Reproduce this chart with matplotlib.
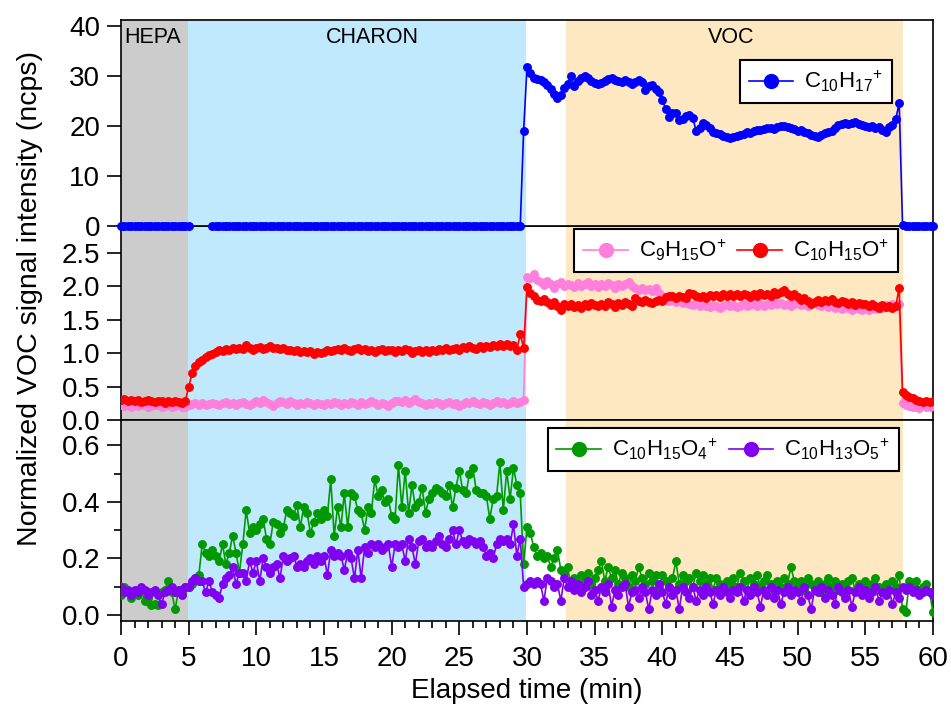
import numpy as np
import matplotlib
matplotlib.use("Agg")
from matplotlib import pyplot as plt
from matplotlib.ticker import MultipleLocator, FormatStrFormatter

plt.rcParams['font.family'] = ['Liberation Sans', 'DejaVu Sans']
plt.rcParams['mathtext.fontset'] = 'custom'
plt.rcParams['mathtext.rm'] = 'Liberation Sans'
plt.rcParams['mathtext.default'] = 'regular'

# sampled every 0.25 min from 0 to 60 min
time_min = np.arange(241) * 0.25

nan = np.nan

c10h17 = [
    0.0, 0.0, 0.0, 0.0, 0.0, 0.0, 0.0, 0.0, 0.0, 0.0, 0.0, 0.0, 0.0, 0.0, 0.0, 0.0, 0.0, 0.0, 0.0, 0.0,
    0.0, nan, nan, nan, nan, nan, nan, 0.0, 0.0, 0.0, 0.0, 0.0, 0.0, 0.0, 0.0, 0.0, 0.0, 0.0, 0.0, 0.0,
    0.0, 0.0, 0.0, 0.0, 0.0, 0.0, 0.0, 0.0, 0.0, 0.0, 0.0, 0.0, 0.0, 0.0, 0.0, 0.0, 0.0, 0.0, 0.0, 0.0,
    0.0, 0.0, 0.0, 0.0, 0.0, 0.0, 0.0, 0.0, 0.0, 0.0, 0.0, 0.0, 0.0, 0.0, 0.0, 0.0, 0.0, 0.0, 0.0, 0.0,
    0.0, 0.0, 0.0, 0.0, 0.0, 0.0, 0.0, 0.0, 0.0, 0.0, 0.0, 0.0, 0.0, 0.0, 0.0, 0.0, 0.0, 0.0, 0.0, 0.0,
    0.0, 0.0, 0.0, 0.0, 0.0, 0.0, 0.0, 0.0, 0.0, 0.0, 0.0, 0.0, 0.0, 0.0, 0.0, 0.0, 0.0, 0.0, 0.0, 19.0,
    31.8, 30.6, 29.6, 29.4, 29.2, 28.8, 28.2, 27.4, 26.4, 25.6, 26.2, 27.6, 28.4, 30.0, 28.0, 29.0, 29.6, 30.0, 29.6, 29.0,
    28.6, 28.4, 28.6, 29.0, 29.4, 29.6, 29.2, 29.0, 28.8, 29.2, 28.8, 28.4, 28.8, 29.2, 28.8, 27.2, 28.0, 28.2, 27.4, 26.8,
    25.2, 23.4, 21.8, 22.6, 22.6, 21.2, 21.4, 22.0, 22.2, 21.6, 19.0, 19.6, 20.6, 20.2, 19.6, 18.8, 18.6, 18.4, 18.0, 17.8,
    17.6, 17.8, 18.0, 18.2, 18.4, 18.8, 18.6, 19.0, 19.2, 19.2, 19.4, 19.6, 19.6, 19.4, 19.8, 20.0, 20.0, 19.8, 19.6, 19.4,
    19.0, 19.2, 18.8, 18.6, 18.2, 18.0, 17.8, 18.2, 18.6, 18.8, 19.0, 19.6, 20.2, 20.4, 20.6, 20.4, 20.6, 20.8, 20.4, 20.2,
    20.0, 19.8, 20.0, 19.6, 19.8, 19.2, 18.8, 19.8, 20.2, 21.4, 24.6, 0.3, 0.0, 0.0, 0.0, 0.0, 0.0, 0.0, 0.0, 0.0,
    0.0,
]

c9h15o = [
    0.22, 0.21, 0.23, 0.20, 0.22, 0.21, 0.23, 0.22, 0.20, 0.21, 0.23, 0.22, 0.20, 0.21, 0.22, 0.20, 0.21, 0.22, 0.20, 0.19,
    0.22, 0.24, 0.26, 0.23, 0.25, 0.22, 0.24, 0.26, 0.24, 0.22, 0.25, 0.27, 0.24, 0.26, 0.23, 0.25, 0.27, 0.24, 0.22, 0.26,
    0.28, 0.25, 0.30, 0.27, 0.24, 0.21, 0.26, 0.29, 0.27, 0.24, 0.28, 0.25, 0.23, 0.26, 0.24, 0.27, 0.25, 0.22, 0.26, 0.24,
    0.23, 0.26, 0.24, 0.27, 0.25, 0.22, 0.26, 0.24, 0.27, 0.25, 0.23, 0.27, 0.24, 0.26, 0.28, 0.25, 0.23, 0.26, 0.24, 0.21,
    0.25, 0.28, 0.29, 0.27, 0.30, 0.26, 0.28, 0.31, 0.27, 0.25, 0.23, 0.26, 0.24, 0.27, 0.25, 0.22, 0.25, 0.27, 0.24, 0.26,
    0.21, 0.24, 0.27, 0.25, 0.28, 0.26, 0.24, 0.27, 0.25, 0.23, 0.26, 0.28, 0.25, 0.27, 0.24, 0.26, 0.28, 0.25, 0.27, 0.30,
    2.14, 2.12, 2.18, 2.10, 2.06, 2.02, 2.08, 2.04, 1.98, 2.03, 2.06, 2.00, 2.04, 2.02, 1.99, 2.05, 2.01, 2.03, 2.06, 2.00,
    2.03, 1.99, 2.04, 2.01, 2.05, 2.02, 1.98, 2.03, 2.00, 2.04, 2.06, 2.01, 1.97, 1.95, 1.98, 1.94, 1.96, 1.93, 1.97, 1.90,
    1.86, 1.82, 1.78, 1.80, 1.76, 1.78, 1.75, 1.77, 1.74, 1.72, 1.75, 1.70, 1.73, 1.71, 1.69, 1.72, 1.70, 1.68, 1.71, 1.73,
    1.70, 1.72, 1.69, 1.71, 1.74, 1.70, 1.72, 1.75, 1.71, 1.73, 1.70, 1.74, 1.72, 1.76, 1.73, 1.75, 1.72, 1.74, 1.71, 1.73,
    1.75, 1.72, 1.74, 1.71, 1.73, 1.76, 1.72, 1.70, 1.73, 1.69, 1.71, 1.68, 1.70, 1.66, 1.69, 1.67, 1.65, 1.68, 1.66, 1.64,
    1.67, 1.65, 1.68, 1.66, 1.70, 1.68, 1.72, 1.69, 1.73, 1.71, 1.74, 0.26, 0.23, 0.21, 0.19, 0.20, 0.18, 0.21, 0.19, 0.20,
    0.21,
]

c10h15o = [
    0.30, 0.32, 0.29, 0.30, 0.28, 0.30, 0.27, 0.29, 0.30, 0.28, 0.27, 0.29, 0.28, 0.26, 0.28, 0.27, 0.29, 0.27, 0.26, 0.28,
    0.49, 0.70, 0.80, 0.86, 0.90, 0.94, 0.97, 0.98, 1.02, 1.04, 1.03, 1.06, 1.05, 1.07, 1.06, 1.08, 1.06, 1.12, 1.07, 1.05,
    1.07, 1.09, 1.06, 1.08, 1.10, 1.07, 1.08, 1.06, 1.08, 1.04, 1.05, 1.03, 1.04, 1.02, 1.03, 1.01, 1.03, 0.98, 1.01, 1.00,
    1.02, 1.04, 1.03, 1.05, 1.06, 1.04, 1.07, 1.05, 1.03, 1.06, 1.08, 1.04, 1.06, 1.03, 1.05, 1.02, 1.04, 1.06, 1.03, 1.05,
    1.04, 1.02, 1.05, 1.03, 1.06, 1.04, 1.00, 1.03, 1.05, 1.02, 1.04, 1.01, 1.05, 1.03, 1.06, 1.04, 1.07, 1.05, 1.06, 1.08,
    1.05, 1.09, 1.07, 1.10, 1.08, 1.06, 1.10, 1.08, 1.11, 1.09, 1.12, 1.10, 1.13, 1.10, 1.14, 1.11, 1.12, 1.05, 1.28, 1.08,
    1.99, 1.90, 1.85, 1.80, 1.78, 1.81, 1.76, 1.72, 1.77, 1.70, 1.65, 1.73, 1.70, 1.74, 1.69, 1.72, 1.68, 1.73, 1.71, 1.75,
    1.72, 1.70, 1.74, 1.71, 1.76, 1.73, 1.69, 1.75, 1.72, 1.77, 1.74, 1.71, 1.82, 1.78, 1.76, 1.79, 1.77, 1.75, 1.78, 1.80,
    1.78, 1.84, 1.86, 1.85, 1.83, 1.86, 1.84, 1.82, 1.90, 1.88, 1.86, 1.84, 1.86, 1.83, 1.87, 1.85, 1.87, 1.84, 1.88, 1.86,
    1.89, 1.86, 1.88, 1.85, 1.89, 1.87, 1.84, 1.88, 1.86, 1.90, 1.87, 1.89, 1.86, 1.91, 1.88, 1.92, 1.94, 1.89, 1.86, 1.88,
    1.84, 1.80, 1.83, 1.78, 1.74, 1.77, 1.80, 1.76, 1.79, 1.78, 1.81, 1.77, 1.75, 1.78, 1.76, 1.74, 1.77, 1.72, 1.75, 1.73,
    1.74, 1.71, 1.73, 1.70, 1.68, 1.72, 1.69, 1.71, 1.67, 1.70, 1.98, 0.42, 0.37, 0.35, 0.33, 0.30, 0.29, 0.27, 0.28, 0.27,
    0.29,
]

c10h15o4 = [
    0.07, 0.10, 0.08, 0.06, 0.08, 0.07, 0.09, 0.05, 0.06, 0.035, 0.04, 0.035, 0.08, 0.09, 0.12, 0.08, 0.02, 0.09, 0.08, 0.10,
    0.10, 0.11, 0.13, 0.14, 0.25, 0.22, 0.21, 0.23, 0.21, 0.19, 0.25, 0.18, 0.22, 0.28, 0.22, 0.15, 0.25, 0.37, 0.29, 0.31,
    0.30, 0.32, 0.34, 0.27, 0.25, 0.33, 0.32, 0.29, 0.31, 0.37, 0.36, 0.35, 0.39, 0.31, 0.38, 0.36, 0.29, 0.33, 0.36, 0.34,
    0.37, 0.35, 0.48, 0.28, 0.38, 0.31, 0.43, 0.31, 0.43, 0.42, 0.37, 0.36, 0.30, 0.38, 0.36, 0.48, 0.42, 0.44, 0.40, 0.41,
    0.35, 0.34, 0.53, 0.38, 0.51, 0.36, 0.46, 0.38, 0.40, 0.45, 0.36, 0.41, 0.43, 0.45, 0.44, 0.43, 0.42, 0.46, 0.38, 0.45,
    0.51, 0.44, 0.43, 0.50, 0.52, 0.44, 0.43, 0.43, 0.42, 0.34, 0.41, 0.42, 0.54, 0.37, 0.51, 0.41, 0.52, 0.46, 0.43, 0.18,
    0.31, 0.29, 0.24, 0.21, 0.22, 0.20, 0.21, 0.17, 0.20, 0.23, 0.16, 0.15, 0.17, 0.10, 0.13, 0.11, 0.14, 0.12, 0.15, 0.11,
    0.13, 0.16, 0.19, 0.12, 0.17, 0.13, 0.16, 0.11, 0.15, 0.13, 0.10, 0.14, 0.12, 0.17, 0.13, 0.11, 0.15, 0.12, 0.14, 0.10,
    0.14, 0.12, 0.10, 0.13, 0.19, 0.11, 0.14, 0.12, 0.13, 0.10, 0.15, 0.12, 0.14, 0.11, 0.13, 0.09, 0.13, 0.11, 0.10, 0.12,
    0.11, 0.13, 0.10, 0.15, 0.12, 0.09, 0.13, 0.11, 0.14, 0.10, 0.12, 0.14, 0.11, 0.09, 0.12, 0.10, 0.13, 0.11, 0.17, 0.12,
    0.10, 0.12, 0.09, 0.13, 0.11, 0.10, 0.12, 0.08, 0.11, 0.13, 0.10, 0.12, 0.09, 0.11, 0.10, 0.12, 0.13, 0.09, 0.11, 0.10,
    0.12, 0.09, 0.11, 0.13, 0.10, 0.08, 0.11, 0.09, 0.12, 0.10, 0.14, 0.02, 0.01, 0.12, 0.11, 0.12, 0.09, 0.10, 0.11, 0.08,
    0.01,
]

c10h13o5 = [
    0.10, 0.08, 0.09, 0.07, 0.09, 0.08, 0.10, 0.09, 0.07, 0.08, 0.09, 0.07, 0.04, 0.08, 0.09, 0.10, 0.08, 0.09, 0.07, 0.10,
    0.10, 0.12, 0.13, 0.12, 0.12, 0.08, 0.12, 0.08, 0.07, 0.06, 0.11, 0.13, 0.14, 0.17, 0.11, 0.15, 0.15, 0.12, 0.19, 0.15,
    0.19, 0.12, 0.20, 0.17, 0.15, 0.17, 0.18, 0.13, 0.21, 0.19, 0.20, 0.21, 0.17, 0.18, 0.17, 0.19, 0.20, 0.18, 0.21, 0.19,
    0.21, 0.14, 0.23, 0.21, 0.22, 0.21, 0.16, 0.22, 0.20, 0.13, 0.23, 0.13, 0.24, 0.22, 0.25, 0.24, 0.25, 0.23, 0.24, 0.25,
    0.17, 0.25, 0.24, 0.25, 0.19, 0.27, 0.24, 0.18, 0.26, 0.27, 0.24, 0.25, 0.24, 0.26, 0.28, 0.25, 0.24, 0.27, 0.30, 0.25,
    0.30, 0.26, 0.25, 0.27, 0.26, 0.25, 0.26, 0.24, 0.21, 0.22, 0.20, 0.25, 0.27, 0.26, 0.27, 0.25, 0.32, 0.21, 0.27, 0.10,
    0.11, 0.12, 0.11, 0.12, 0.11, 0.05, 0.13, 0.12, 0.10, 0.11, 0.05, 0.13, 0.10, 0.12, 0.09, 0.11, 0.08, 0.10, 0.12, 0.07,
    0.09, 0.05, 0.10, 0.08, 0.11, 0.03, 0.09, 0.07, 0.10, 0.11, 0.03, 0.08, 0.09, 0.06, 0.10, 0.08, 0.02, 0.09, 0.07, 0.11,
    0.08, 0.04, 0.10, 0.07, 0.09, 0.02, 0.10, 0.08, 0.06, 0.10, 0.05, 0.09, 0.07, 0.10, 0.08, 0.04, 0.09, 0.07, 0.10, 0.08,
    0.06, 0.09, 0.08, 0.10, 0.05, 0.09, 0.07, 0.10, 0.08, 0.03, 0.09, 0.07, 0.10, 0.06, 0.09, 0.04, 0.08, 0.10, 0.07, 0.09,
    0.08, 0.05, 0.10, 0.07, 0.02, 0.09, 0.08, 0.10, 0.06, 0.09, 0.07, 0.04, 0.10, 0.08, 0.06, 0.09, 0.03, 0.08, 0.10, 0.07,
    0.09, 0.06, 0.08, 0.10, 0.05, 0.08, 0.07, 0.09, 0.04, 0.08, 0.06, 0.10, 0.09, 0.10, 0.08, 0.09, 0.07, 0.08, 0.09, 0.08,
    0.07,
]

# periods (min)
periods = [("HEPA", 0.0, 4.95, "#cccccc"),
           ("CHARON", 4.95, 29.9, "#c0e9fd"),
           ("VOC", 32.85, 57.75, "#fde8c1")]
label_x = {"HEPA": 2.3, "CHARON": 18.55, "VOC": 45.1}

top_ticks = [0, 10, 20, 30, 40]
mid_ticks = [0.0, 0.5, 1.0, 1.5, 2.0, 2.5]
bot_ticks = [0.0, 0.2, 0.4, 0.6]

W, H = 951, 711
fig = plt.figure(figsize=(W / 100, H / 100), dpi=100)

left = 121 / W
width = (933 - 121) / W


def panel(top_px, bot_px):
    return fig.add_axes([left, 1 - bot_px / H, width, (bot_px - top_px) / H])


ax1 = panel(20, 226)
ax2 = panel(226, 420)
ax3 = panel(420, 621)

lw = 1.2
ms = 5.4

for ax in (ax1, ax2, ax3):
    for name, x0, x1, col in periods:
        ax.axvspan(x0, x1, color=col, lw=0, zorder=0)
    ax.set_xlim(0, 60)
    for sp in ax.spines.values():
        sp.set_linewidth(1.2)
    ax.tick_params(axis='y', direction='out', length=10, width=1.2, labelsize=20, pad=5)
    ax.tick_params(axis='y', which='minor', direction='out', length=5, width=1.2)

for name, x0, x1, col in periods:
    ax1.text(label_x[name], 0.915, name, transform=ax1.get_xaxis_transform(),
             ha='center', va='center', fontsize=15.5)

ax1.plot(time_min, c10h17, '-o', color='#0000ff', lw=lw, ms=ms, clip_on=False, zorder=5,
         label=r'C$_{10}$H$_{17}$$^{+}$')
ax1.set_ylim(0, 41.2)
ax1.set_yticks(top_ticks)

ax2.plot(time_min, c9h15o, '-o', color='#ff80dc', lw=lw, ms=ms, zorder=3,
         label=r'C$_{9}$H$_{15}$O$^{+}$')
ax2.plot(time_min, c10h15o, '-o', color='#ff0000', lw=lw, ms=ms, zorder=4,
         label=r'C$_{10}$H$_{15}$O$^{+}$')
ax2.set_ylim(0, 2.9)
ax2.set_yticks(mid_ticks)
ax2.set_yticklabels(['%.1f' % v for v in mid_ticks])

ax3.plot(time_min, c10h15o4, '-o', color='#009a00', lw=lw, ms=ms, zorder=3,
         label=r'C$_{10}$H$_{15}$O$_{4}$$^{+}$')
ax3.plot(time_min, c10h13o5, '-o', color='#8000f0', lw=lw, ms=ms, zorder=4,
         label=r'C$_{10}$H$_{13}$O$_{5}$$^{+}$')
ax3.set_ylim(-0.021, 0.689)
ax3.set_yticks(bot_ticks)
ax3.yaxis.set_minor_locator(MultipleLocator(0.1))
ax3.yaxis.set_major_formatter(FormatStrFormatter('%.1f'))

for ax in (ax1, ax2):
    ax.tick_params(axis='x', which='both', bottom=False, labelbottom=False)

ax3.xaxis.set_major_locator(MultipleLocator(5))
ax3.xaxis.set_minor_locator(MultipleLocator(1))
ax3.tick_params(axis='x', direction='out', length=10, width=1.2, labelsize=20, pad=8)
ax3.tick_params(axis='x', which='minor', direction='out', length=5, width=1.2)
ax3.set_xlabel('Elapsed time (min)', fontsize=20, labelpad=4)

fig.text(30 / W, 1 - 299 / H, 'Normalized VOC signal intensity (ncps)', rotation=90,
         ha='center', va='center', fontsize=20.5)

leg_kw = dict(loc='upper right', fontsize=16, frameon=True, fancybox=False,
              edgecolor='black', framealpha=1, borderaxespad=0, markerscale=1.85,
              handlelength=2.0, handletextpad=0.5, columnspacing=0.5,
              borderpad=0.4)
l1 = ax1.legend(bbox_to_anchor=(0.9495, 0.806), **leg_kw)
l2 = ax2.legend(bbox_to_anchor=(0.957, 0.985), ncol=2, **leg_kw)
l3 = ax3.legend(bbox_to_anchor=(0.958, 0.96), ncol=2, **leg_kw)
for lg in (l1, l2, l3):
    lg.get_frame().set_linewidth(1.5)
    lg.set_zorder(10)

# top panel last so its zero-line markers spill over the panel border
ax1.set_zorder(3)

fig.savefig('out.png', dpi=100)
